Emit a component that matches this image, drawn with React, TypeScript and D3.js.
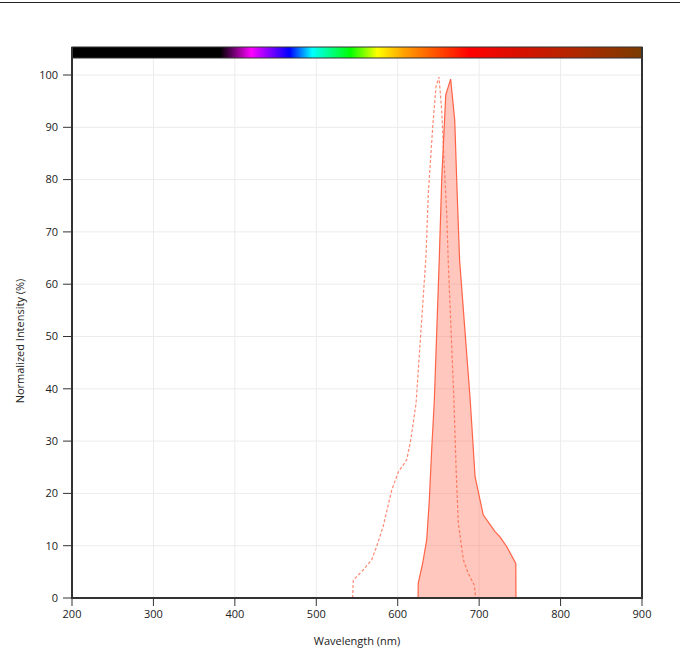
import React from "react";
import * as d3 from "d3";

const xTicks = [200, 300, 400, 500, 600, 700, 800, 900];
const yTicks = [0, 10, 20, 30, 40, 50, 60, 70, 80, 90, 100];

const emissionNm = [625, 625.2, 630.6, 635.6, 638.8, 641.7, 645, 651, 654, 659, 665, 670, 673, 676, 689, 695, 705, 719.5, 725.6, 734, 745, 745.2];
const emissionVal = [0, 2.8, 6.6, 11.1, 18.7, 28.3, 37.9, 64.6, 79.9, 96.2, 99.2, 91.4, 77.4, 64.6, 37.9, 23.2, 15.9, 12.7, 11.7, 9.8, 6.6, 0];

const excitationNm = [544.6, 545.5, 557.8, 568, 574, 582, 592.6, 600.8, 611, 616, 622.5, 634.7, 637.6, 643, 647, 650.7, 654, 656.8, 660, 662, 669, 671.6, 674.4, 680.6, 686.7, 694, 695.8];
const excitationVal = [0, 3.4, 5.4, 7.3, 9.8, 13.6, 20.6, 24.1, 26.4, 30.2, 37.2, 65.3, 77.4, 90.1, 97.8, 99.6, 93.3, 83.7, 74.2, 64.6, 37.9, 25.1, 14.3, 7.3, 4.7, 2.5, 0];

const spectrumNm = [200, 382, 420, 443, 467, 495, 542, 575, 608, 655, 688, 749, 819, 900];
const spectrumColor = ["#000000", "#000000", "#ff00ff", "#8000ff", "#0000ff", "#00ffff", "#00ff00", "#ffff00", "#ffa000", "#ff4000", "#ff0000", "#d81000", "#b02800", "#7a3c00"];

export default function App() {
  const W = 680, H = 657;
  const left = 72, right = 642, top = 58, bottom = 598;
  const x = d3.scaleLinear().domain([200, 900]).range([left, right]);
  const y = d3.scaleLinear().domain([0, 100]).range([bottom, 75]);

  const em = emissionNm.map((n, i) => [n, emissionVal[i]] as [number, number]);
  const ex = excitationNm.map((n, i) => [n, excitationVal[i]] as [number, number]);
  const area = d3.area<[number, number]>().x(d => x(d[0])).y0(y(0)).y1(d => y(d[1]));
  const line = d3.line<[number, number]>().x(d => x(d[0])).y(d => y(d[1]));

  const font = "'Open Sans', 'Noto Sans', sans-serif";
  const barTop = 47;

  return (
    <svg width={W} height={H} style={{ position: "absolute", left: 0, top: 0, background: "#fff" }} fontFamily={font}>
      <defs>
        <linearGradient id="spec" x1="0" x2="1" y1="0" y2="0">
          {spectrumNm.map((n, i) => (
            <stop key={i} offset={(n - 200) / 700} stopColor={spectrumColor[i]} />
          ))}
        </linearGradient>
      </defs>
      <line x1={0} x2={W} y1={2.5} y2={2.5} stroke="#222" strokeWidth={1.2} />
      {/* grid */}
      {xTicks.map(t => (
        <line key={"gx" + t} x1={x(t)} x2={x(t)} y1={top} y2={bottom} stroke="#ececec" strokeWidth={1} />
      ))}
      {yTicks.map(t => (
        <line key={"gy" + t} x1={left} x2={right} y1={y(t)} y2={y(t)} stroke="#ececec" strokeWidth={1} />
      ))}
      {/* spectra */}
      <path d={area(em) || ""} fill="rgba(255,99,71,0.36)" stroke="none" />
      <path d={line(em) || ""} fill="none" stroke="#ff6347" strokeWidth={1.2} />
      <path d={line(ex) || ""} fill="none" stroke="#ff6347" strokeOpacity={0.75} strokeWidth={1.2} strokeDasharray="3,2" />
      {/* color bar */}
      <rect x={left} y={barTop} width={right - left} height={top - barTop} fill="url(#spec)" stroke="#333" strokeWidth={1} />
      {/* axes */}
      <line x1={left} x2={left} y1={barTop} y2={bottom + 1} stroke="#333" strokeWidth={2} />
      <line x1={right} x2={right} y1={barTop} y2={bottom + 1} stroke="#333" strokeWidth={2} />
      <line x1={left - 1} x2={right + 1} y1={bottom} y2={bottom} stroke="#333" strokeWidth={2} />
      {xTicks.map(t => (
        <g key={"xt" + t}>
          <line x1={x(t)} x2={x(t)} y1={bottom} y2={bottom + 8} stroke="#333" strokeWidth={1} />
          <text x={x(t)} y={618} textAnchor="middle" fontSize={11} fill="#222">{t}</text>
        </g>
      ))}
      {yTicks.map(t => (
        <g key={"yt" + t}>
          <line x1={left - 9} x2={left} y1={y(t)} y2={y(t)} stroke="#333" strokeWidth={1} />
          <text x={58} y={y(t)} dy="0.35em" textAnchor="end" fontSize={11} fill="#222">{t}</text>
        </g>
      ))}
      <text x={(left + right) / 2} y={645} textAnchor="middle" fontSize={11} fill="#222">Wavelength (nm)</text>
      <text transform={`translate(24,341) rotate(-90)`} textAnchor="middle" fontSize={11} fill="#222">Normalized Intensity (%)</text>
    </svg>
  );
}
